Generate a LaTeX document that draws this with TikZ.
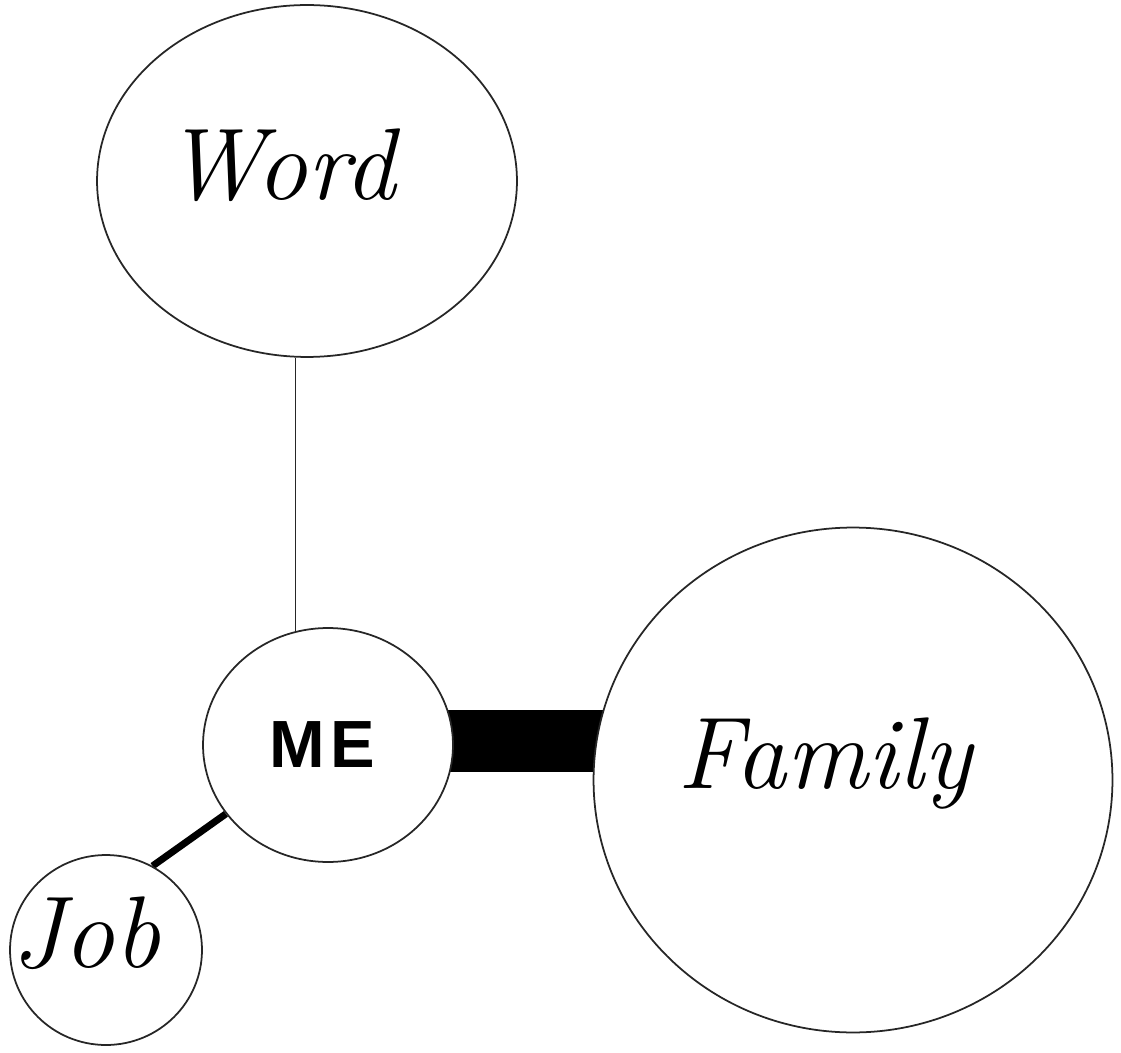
\documentclass[tikz,border=0pt]{standalone}
\usepackage{fontspec}
\setsansfont{Liberation Sans}
\usetikzlibrary{shapes.geometric,backgrounds}
\tikzset{
  bub/.style={ellipse, draw=black!85, line width=1pt, fill=white, inner sep=0pt},
  hand/.style={font=\fontsize{58}{62}\selectfont\itshape, anchor=base, inner sep=0pt},
  metxt/.style={font=\fontsize{38}{40}\selectfont\sffamily\bfseries\addfontfeature{LetterSpace=8}},
  tie/.style={draw=black!85, line width=0.8pt}
}
\begin{document}
\begin{tikzpicture}[x=0.02cm, y=-0.02cm]
    \useasboundingbox (0,0) rectangle (1121,1053);
    % bubbles
    \node[bub, minimum width=8.4cm, minimum height=7.04cm] (word) at (307,181) {};
    \node[bub, minimum width=5cm, minimum height=4.68cm] (me) at (328,745) {};
    \node[bub, minimum width=10.38cm, minimum height=10.1cm] (family) at (853,780) {};
    \node[bub, minimum width=3.84cm, minimum height=3.8cm] (job) at (106,950) {};
    % labels
    \node[metxt] (metxt) at (322,745) {ME};
    \node[hand] (wordtxt) at (280,200) {Word};
    \node[hand] (familytxt) at (825,788) {Family};
    \node[hand] (jobtxt) at (86,967) {Job};
    % ties
    \begin{scope}[on background layer]
      \draw[tie] (me.106) -- (me.106 |- word.south);
      \draw[line width=1.24cm] ([yshift=0.08cm]me.center) -- ([yshift=0.08cm]me.center -| family.center);
      \draw[line width=0.14cm] (job.61) -- (me.214);
    \end{scope}
\end{tikzpicture}
\end{document}
